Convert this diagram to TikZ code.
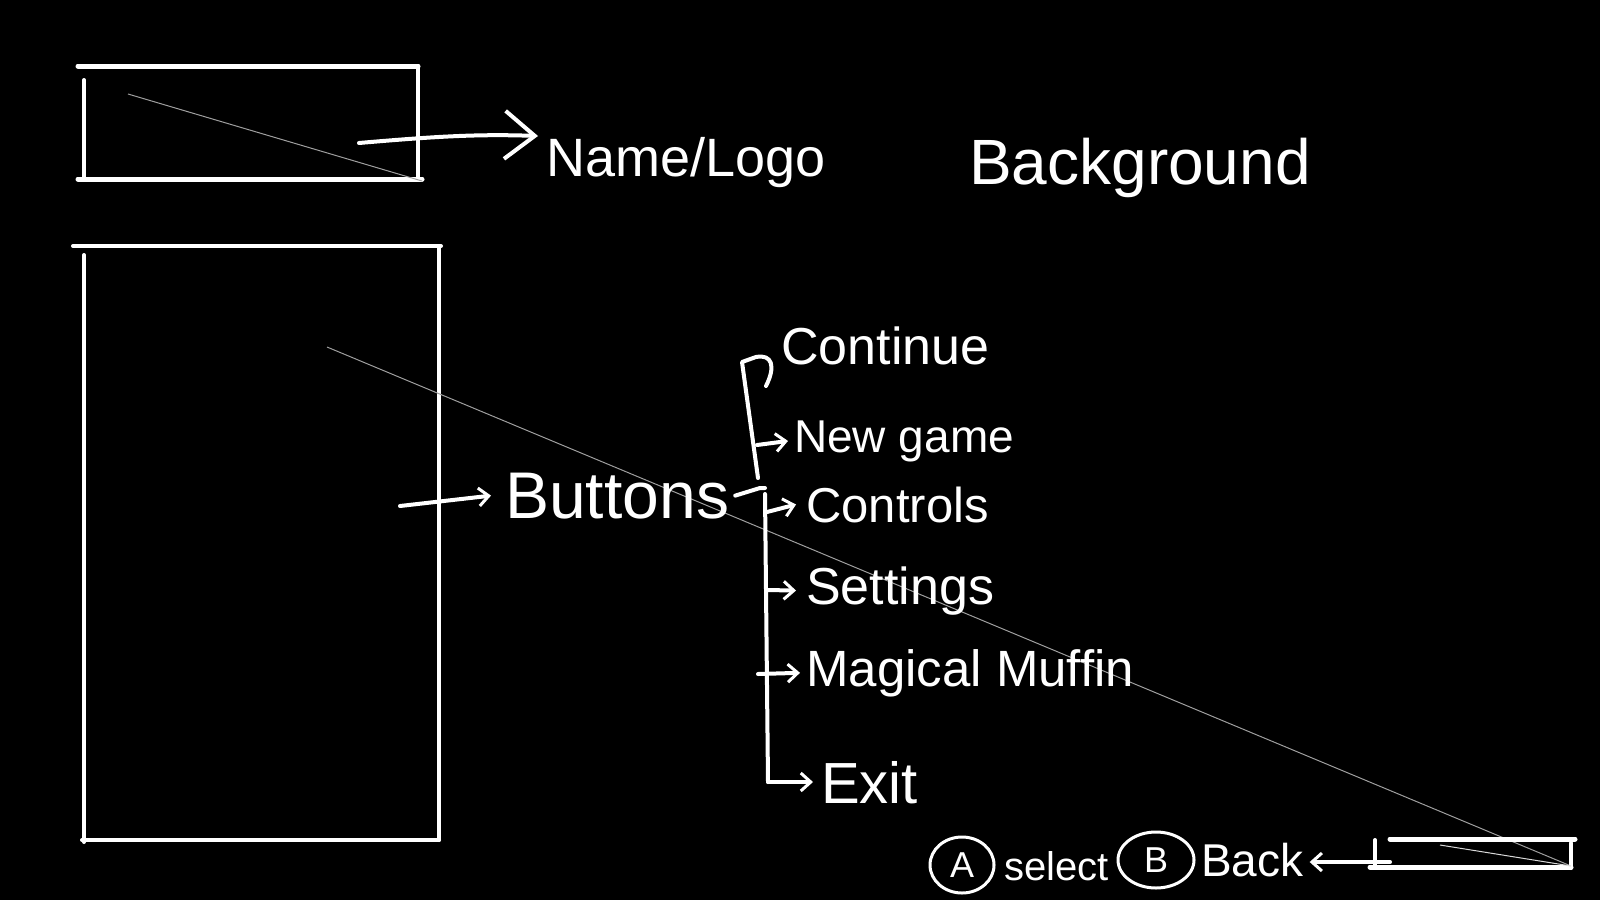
\documentclass[tikz,border=0pt]{standalone}
\usepackage{fontspec}
\setmainfont{Liberation Sans}
\usetikzlibrary{arrows.meta,shapes.geometric}
\begin{document}
\begin{tikzpicture}[x=1pt,y=-1pt,
  stroke/.style={white, line width=4pt, line cap=round, line join=round},
  thickstroke/.style={white, line width=5pt, line cap=round},
  faint/.style={gray!75, line width=1pt},
  lbl/.style={white, anchor=base west, inner sep=0pt},
  barb/.style={-{Straight Barb[length=10pt,width=18pt,line width=3pt]}},
  bigbarb/.style={-{Straight Barb[length=30pt,width=48pt,line width=4pt]}},
  ring/.style={ellipse, draw=white, line width=3pt, white, inner sep=0pt,
    font=\fontsize{36}{40}\selectfont}]
\fill[black] (0,0) rectangle (1600,900);
\useasboundingbox (0,0) rectangle (1600,900);

% ---------- top box (name / logo area)
\draw[thickstroke] (78,66) -- (418,66);
\draw[thickstroke] (78,179) -- (422,179);
\draw[stroke] (84,80) -- (84,179);
\draw[stroke] (418,66) -- (418,179);
\draw[faint] (128,94) -- (422,181);

% ---------- big box (buttons area)
\draw[stroke] (73,246) -- (441,246);
\draw[stroke] (84,255) -- (84,842);
\draw[stroke] (439,246) -- (439,840);
\draw[stroke] (82,840) -- (439,840);

% ---------- long faint diagonal
\coordinate (dgA) at (327,347);
\coordinate (dgB) at (1571,866);
\draw[faint] (dgA) -- (dgB);

% ---------- labels
\node[lbl, font=\fontsize{54}{60}\selectfont] (name) at (546,176) {Name/Logo};
\node[lbl, font=\fontsize{64}{70}\selectfont] (bg) at (969,184) {Background};
\node[lbl, font=\fontsize{66}{70}\selectfont] (buttons) at (505,518) {Buttons};

\coordinate (nameStart) at (359,143);
\draw[stroke, bigbarb] (nameStart) .. controls (440,136) and (480,134) .. ([xshift=-8pt,yshift=40pt]name.base west);
\coordinate (btnStart) at (400,506);
\draw[stroke, barb] (btnStart) -- ([xshift=-14pt]buttons.west);

% ---------- menu items
\node[lbl, font=\fontsize{52}{60}\selectfont] (cont) at (781,364) {Continue};
\node[lbl, font=\fontsize{46}{55}\selectfont] (newg) at (794,452) {New game};
\node[lbl, font=\fontsize{49}{55}\selectfont] (ctrl) at (806,522) {Controls};
\node[lbl, font=\fontsize{52}{60}\selectfont] (sett) at (806,604) {Settings};
\node[lbl, font=\fontsize{51}{60}\selectfont] (magi) at (806,686) {Magical Muffin};
\node[lbl, font=\fontsize{58}{65}\selectfont] (exit) at (821,803) {Exit};

% ---------- brace
\coordinate (bTop) at (742,362);
\coordinate (bJoin) at (760,488);
\coordinate (bBot) at (768,782);
\draw[stroke] (766,386) .. controls (776,366) and (772,354) .. (756,357) -- (bTop) -- (758,478);
\draw[stroke] ([xshift=6pt]buttons.east) -- (bJoin) -- (765,488);
\draw[stroke] (765,494) -- (bBot);

\coordinate (aNew) at (757,445);
\coordinate (aCtrl) at (767,512);
\coordinate (aSett) at (767,590);
\coordinate (aMagi) at (758,674);
\draw[stroke, barb] (aNew) -- ([xshift=-6pt]newg.west);
\draw[stroke, barb] (aCtrl) -- ([xshift=-10pt]ctrl.west);
\draw[stroke, barb] (aSett) -- ([xshift=-10pt]sett.west);
\draw[stroke, barb] (aMagi) -- ([xshift=-6pt]magi.west);
\draw[stroke, barb] (bBot) -- ([xshift=-8pt]exit.west |- bBot);

% ---------- bottom hint bar
\node[ring, minimum width=64pt, minimum height=56pt] (ringA) at (962,865) {A};
\node[lbl, font=\fontsize{40}{50}\selectfont] (select) at (1004,880) {select};
\node[ring, minimum width=76pt, minimum height=56pt] (ringB) at (1156,860) {B};
\node[lbl, font=\fontsize{46}{50}\selectfont] (back) at (1201,876) {Back};

\coordinate (tick) at (1375,862);
\draw[stroke, barb] (1390,862) -- ([xshift=6pt]back.east |- tick);
\draw[stroke] (1375,840) -- (1375,866);

% small rectangle
\draw[thickstroke] (1390,839) -- (1575,839);
\draw[thickstroke] (1370,867) -- (1571,867);
\draw[stroke] (1571,843) -- (1571,868);
\draw[gray!30, line width=1pt] (1440,845) -- (1571,866);
\end{tikzpicture}
\end{document}
